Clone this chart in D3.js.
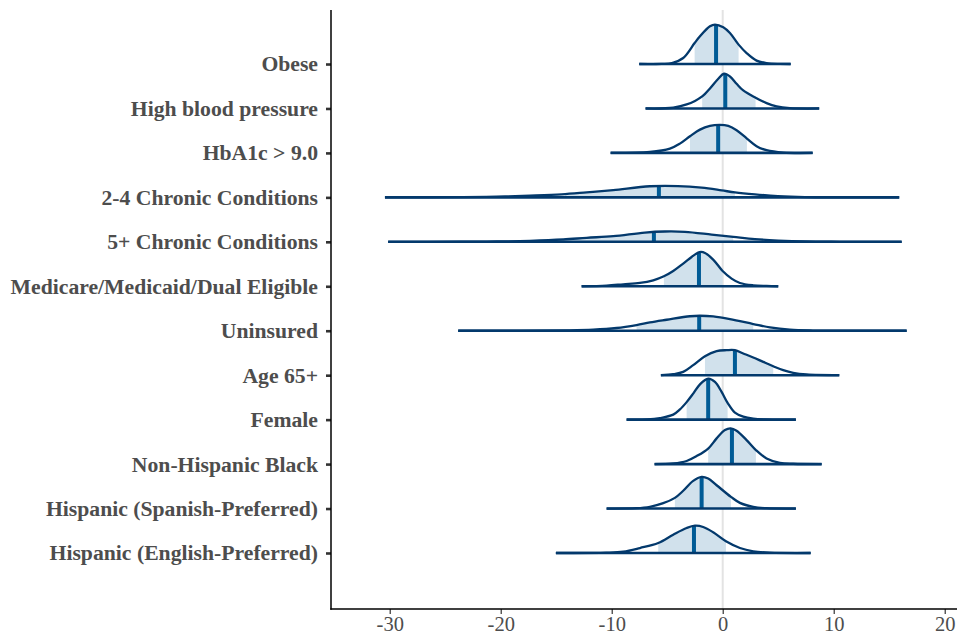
<!DOCTYPE html>
<html>
<head>
<meta charset="utf-8">
<script src="https://cdn.jsdelivr.net/npm/d3@7/dist/d3.min.js"></script>
<style>
  html, body { margin: 0; padding: 0; background: #ffffff; }
  svg { display: block; }
</style>
</head>
<body>
<svg id="chart" width="957" height="635"></svg>
<script>
// ---------------- DATA ----------------
const categories = [
  "Obese",
  "High blood pressure",
  "HbA1c > 9.0",
  "2-4 Chronic Conditions",
  "5+ Chronic Conditions",
  "Medicare/Medicaid/Dual Eligible",
  "Uninsured",
  "Age 65+",
  "Female",
  "Non-Hispanic Black",
  "Hispanic (Spanish-Preferred)",
  "Hispanic (English-Preferred)"
];

const medians = [-0.60, 0.23, -0.41, -5.75, -6.20, -2.14, -2.12, 1.10, -1.31, 0.83, -1.90, -2.59];
const innerLo = [-2.53, -1.85, -2.95, -14.2, -14.4, -5.30, -7.76, -1.60, -3.25, -1.31, -4.31, -5.81];
const innerHi = [1.43, 2.96, 2.18, 1.10, 0.95, -0.01, 2.75, 4.55, 0.44, 2.99, 0.74, 0.29];
const outerLo = [-7.52, -6.95, -10.10, -30.43, -30.14, -12.71, -23.83, -5.57, -8.66, -6.14, -10.46, -15.03];
const outerHi = [6.12, 8.69, 8.10, 15.90, 16.12, 5.00, 16.57, 10.50, 6.59, 8.91, 6.59, 7.92];

// density curves: [value, scaled height in row units]
const densObese = [[-7.52,0],[-5.5,0.003],[-4.58,0.02],[-3.56,0.135],[-2.53,0.472],[-2.05,0.623],[-1.15,0.848],[-0.70,0.886],[0.05,0.826],[0.65,0.697],[1.43,0.436],[2.15,0.247],[3.05,0.076],[3.95,0.022],[5.15,0.003],[6.12,0]];
const densBP = [[-6.95,0],[-4.46,0.016],[-3.25,0.09],[-2.5,0.17],[-1.85,0.27],[-1.15,0.45],[-0.40,0.668],[0.11,0.781],[0.65,0.72],[1.25,0.556],[1.85,0.405],[2.96,0.241],[3.95,0.119],[4.86,0.045],[6.05,0.007],[8.69,0]];
const densHbA1c = [[-10.10,0],[-6.56,0.022],[-4.76,0.097],[-3.86,0.209],[-2.95,0.376],[-2.05,0.524],[-1.15,0.607],[-0.25,0.63],[0.50,0.607],[1.25,0.511],[2.18,0.322],[3.05,0.151],[3.95,0.061],[5.45,0.007],[8.10,0]];
const densChronic24 = [[-30.43,0],[-23.40,0.005],[-20.37,0.016],[-17.37,0.038],[-14.51,0.067],[-12.26,0.112],[-9.86,0.164],[-6.56,0.25],[-4.04,0.254],[-1.90,0.218],[-0.10,0.157],[1.10,0.112],[2.90,0.067],[4.97,0.029],[7.41,0.007],[10.56,0.001],[15.90,0]];
const densChronic5 = [[-30.14,0],[-23.68,0.002],[-20.37,0.007],[-17.37,0.022],[-14.37,0.052],[-12.26,0.09],[-9.86,0.128],[-7.01,0.209],[-5.21,0.232],[-3.41,0.225],[-1.00,0.164],[0.95,0.112],[2.90,0.061],[5.00,0.029],[7.41,0.007],[10.56,0.001],[16.12,0]];
const densMedicare = [[-12.71,0],[-10.46,0.016],[-8.96,0.045],[-7.46,0.074],[-6.26,0.135],[-5.30,0.225],[-4.46,0.344],[-3.56,0.511],[-2.80,0.659],[-2.21,0.758],[-1.96,0.772],[-1.60,0.749],[-0.86,0.601],[-0.01,0.344],[0.80,0.173],[1.55,0.074],[2.75,0.022],[3.95,0.007],[5.00,0]];
const densUninsured = [[-23.83,0],[-18.27,0.001],[-14.06,0.007],[-11.67,0.022],[-9.56,0.061],[-7.76,0.128],[-6.56,0.187],[-5.05,0.247],[-2.95,0.326],[-2.05,0.337],[-0.86,0.322],[0.65,0.263],[2.75,0.151],[4.25,0.074],[6.05,0.022],[8.13,0.004],[11.46,0],[16.57,0]];
const densAge65 = [[-5.57,0],[-4.46,0.022],[-3.56,0.074],[-2.66,0.225],[-1.60,0.427],[-0.55,0.54],[0.35,0.562],[1.10,0.562],[1.85,0.488],[2.75,0.398],[3.65,0.299],[4.55,0.202],[5.45,0.112],[6.35,0.052],[7.56,0.016],[10.50,0]];
const densFemale = [[-8.66,0],[-6.8,0.004],[-5.66,0.034],[-4.46,0.112],[-3.85,0.23],[-3.25,0.394],[-2.66,0.585],[-2.05,0.794],[-1.31,0.922],[-0.70,0.848],[-0.10,0.623],[0.44,0.376],[1.10,0.157],[1.85,0.067],[2.75,0.022],[3.80,0.004],[6.59,0]];
const densBlack = [[-6.14,0],[-4.46,0.015],[-3.25,0.07],[-2.35,0.18],[-1.31,0.35],[-0.55,0.578],[0.20,0.765],[0.71,0.803],[1.25,0.749],[2.15,0.54],[2.99,0.315],[3.95,0.128],[5.15,0.029],[6.35,0.007],[8.91,0]];
const densHispSp = [[-10.46,0],[-7.8,0.008],[-6.56,0.04],[-5.36,0.12],[-4.31,0.24],[-3.56,0.40],[-2.66,0.623],[-1.90,0.713],[-1.31,0.675],[-0.55,0.524],[0.74,0.263],[1.55,0.128],[2.75,0.038],[3.95,0.007],[6.59,0]];
const densHispEn = [[-15.03,0],[-10.5,0.006],[-8.96,0.029],[-7.46,0.112],[-5.81,0.225],[-4.46,0.412],[-3.25,0.562],[-2.50,0.614],[-1.76,0.585],[-0.86,0.466],[0.29,0.263],[1.55,0.112],[2.75,0.038],[4.25,0.007],[7.92,0]];

const densities = [densObese, densBP, densHbA1c, densChronic24, densChronic5, densMedicare,
                   densUninsured, densAge65, densFemale, densBlack, densHispSp, densHispEn];

const xTicks = [-30, -20, -10, 0, 10, 20];

// ---------------- CHART ----------------
const svg = d3.select("#chart");
const plotLeft = 331, plotRight = 957, plotTop = 10, plotBottom = 609;
const serif = "'Liberation Serif', 'Times New Roman', Times, 'DejaVu Serif', serif";

const x = d3.scaleLinear().domain([-35.29, 21.1]).range([plotLeft, plotLeft + (21.1 + 35.29) * 11.1]);
const y = d3.scaleLinear().domain([-1.215, 12.26]).range([plotTop, plotBottom]);

const colOutline = "#03396c";
const colMedian = "#005b96";
const colFill = "#d1e1ec";

// zero reference line
svg.append("line")
  .attr("x1", x(0)).attr("x2", x(0))
  .attr("y1", plotTop).attr("y2", plotBottom)
  .attr("stroke", "#e3e3e3").attr("stroke-width", 2);

const defs = svg.append("defs");
const curve = d3.curveCatmullRom.alpha(0.5);

densities.forEach((dens, i) => {
  const area = d3.area()
    .x(d => x(d[0]))
    .y0(() => y(i))
    .y1(d => y(i - d[1]))
    .curve(curve);
  const line = d3.line()
    .x(d => x(d[0]))
    .y(d => y(i - d[1]))
    .curve(curve);

  defs.append("clipPath").attr("id", "inner" + i)
    .append("rect")
    .attr("x", x(innerLo[i])).attr("width", x(innerHi[i]) - x(innerLo[i]))
    .attr("y", y(i - 1.2)).attr("height", y(i) - y(i - 1.2));
  defs.append("clipPath").attr("id", "shape" + i)
    .append("path").attr("d", area(dens));

  const g = svg.append("g");
  g.append("path")
    .attr("d", area(dens))
    .attr("fill", colFill)
    .attr("clip-path", `url(#inner${i})`);

  g.append("line")
    .attr("x1", x(medians[i])).attr("x2", x(medians[i]))
    .attr("y1", y(i)).attr("y2", y(i - 1.2))
    .attr("stroke", colMedian).attr("stroke-width", 4)
    .attr("clip-path", `url(#shape${i})`);

  g.append("path")
    .attr("d", line(dens))
    .attr("fill", "none")
    .attr("stroke", colOutline)
    .attr("stroke-width", 2.3)
    .attr("stroke-linejoin", "round");

  g.append("line")
    .attr("x1", x(outerLo[i])).attr("x2", x(outerHi[i]))
    .attr("y1", y(i)).attr("y2", y(i))
    .attr("stroke", colOutline).attr("stroke-width", 2.6);
});

// axes
const xAxis = svg.append("g")
  .attr("transform", `translate(0,${plotBottom})`)
  .call(d3.axisBottom(x).tickValues(xTicks).tickSize(5).tickPadding(2)
        .tickFormat(d => d < 0 ? "-" + Math.abs(d) : String(d)));
xAxis.select(".domain").remove();
xAxis.selectAll(".tick line").attr("stroke", "#333333").attr("stroke-width", 1.2);
xAxis.selectAll("text")
  .attr("fill", "#4d4d4d")
  .style("font-family", serif)
  .style("font-size", "20.5px");

const yAxis = svg.append("g")
  .attr("transform", `translate(${plotLeft},0)`)
  .call(d3.axisLeft(y).tickValues(d3.range(categories.length)).tickSize(5).tickPadding(8)
        .tickFormat(i => categories[i]));
yAxis.select(".domain").remove();
yAxis.selectAll(".tick line").attr("stroke", "#333333").attr("stroke-width", 2.6);
yAxis.selectAll("text")
  .attr("fill", "#4d4d4d")
  .style("font-family", serif)
  .style("font-weight", "bold")
  .style("font-size", "21.7px");

// axis lines
svg.append("line")
  .attr("x1", plotLeft).attr("x2", plotLeft).attr("y1", plotTop).attr("y2", plotBottom + 0.7)
  .attr("stroke", "#000000").attr("stroke-width", 1.5);
svg.append("line")
  .attr("x1", plotLeft - 0.7).attr("x2", plotRight).attr("y1", plotBottom).attr("y2", plotBottom)
  .attr("stroke", "#000000").attr("stroke-width", 1.5);
</script>
</body>
</html>
